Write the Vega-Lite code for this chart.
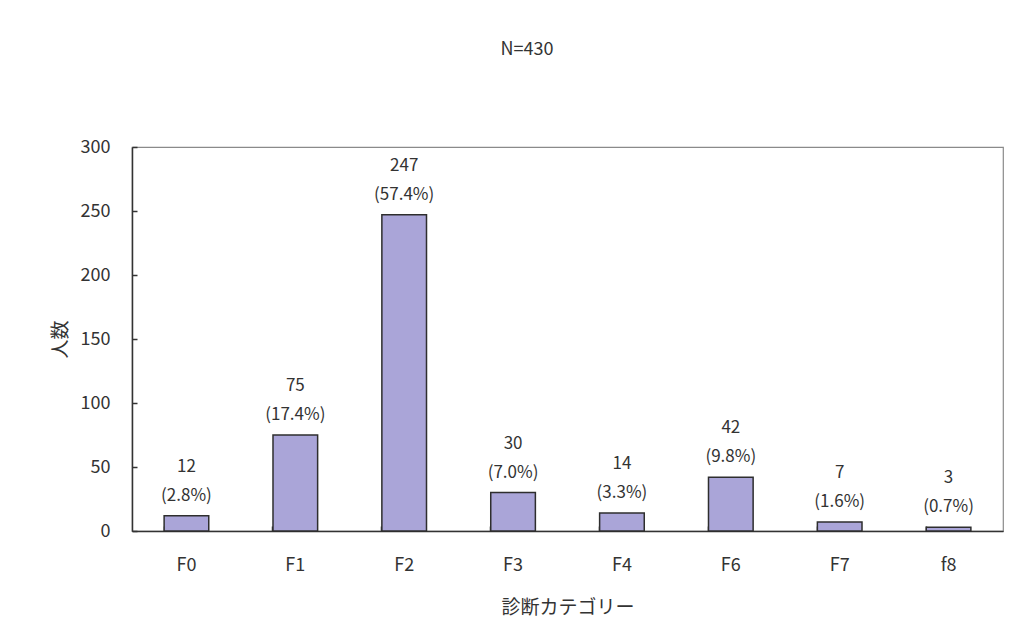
{
  "$schema": "https://vega.github.io/schema/vega-lite/v6.json",
  "autosize": "none",
  "width": 871,
  "height": 384,
  "padding": {"left": 132, "top": 147, "right": 16, "bottom": 103},
  "background": "white",
  "title": {
    "text": "N=430",
    "anchor": "middle",
    "frame": "bounds",
    "offset": 79,
    "fontSize": 18,
    "fontWeight": "normal",
    "font": "Noto Sans CJK JP",
    "color": "#333333"
  },
  "config": {
    "view": {"stroke": "#8a8a8a", "strokeWidth": 1.2},
    "font": "Noto Sans CJK JP"
  },
  "data": {
    "values": [
      {"cat": "F0", "count": 12, "pct": "(2.8%)"},
      {"cat": "F1", "count": 75, "pct": "(17.4%)"},
      {"cat": "F2", "count": 247, "pct": "(57.4%)"},
      {"cat": "F3", "count": 30, "pct": "(7.0%)"},
      {"cat": "F4", "count": 14, "pct": "(3.3%)"},
      {"cat": "F6", "count": 42, "pct": "(9.8%)"},
      {"cat": "F7", "count": 7, "pct": "(1.6%)"},
      {"cat": "f8", "count": 3, "pct": "(0.7%)"}
    ]
  },
  "encoding": {
    "x": {
      "field": "cat",
      "type": "nominal",
      "sort": null,
      "scale": {"paddingInner": 0.59, "paddingOuter": 0.295},
      "axis": {
        "title": "診断カテゴリー",
        "labelAngle": 0,
        "bandPosition": 0,
        "tickSize": -5,
        "tickColor": "#333333",
        "tickWidth": 1.5,
        "domainColor": "#333333",
        "domainWidth": 1.5,
        "labelFontSize": 18,
        "labelColor": "#333333",
        "labelPadding": 30,
        "titleFontSize": 19,
        "titleFontWeight": "normal",
        "titleColor": "#333333",
        "titlePadding": 24
      }
    },
    "y": {
      "field": "count",
      "type": "quantitative",
      "scale": {"domain": [0, 300]},
      "axis": {
        "title": "人数",
        "values": [0, 50, 100, 150, 200, 250, 300],
        "grid": false,
        "tickSize": -5,
        "tickColor": "#333333",
        "tickWidth": 1.5,
        "domainColor": "#333333",
        "domainWidth": 1.5,
        "labelFontSize": 18,
        "labelColor": "#333333",
        "labelPadding": 27,
        "titleFontSize": 19,
        "titleFontWeight": "normal",
        "titleColor": "#333333",
        "titlePadding": 10
      }
    }
  },
  "layer": [
    {
      "mark": {"type": "bar", "color": "#aaa5d8", "stroke": "#2e2e2e", "strokeWidth": 1.5}
    },
    {
      "transform": [{"calculate": "[format(datum.count, 'd'), datum.pct]", "as": "label"}],
      "mark": {"type": "text", "baseline": "bottom", "dy": -40, "fontSize": 17, "lineHeight": 29, "color": "#333333"},
      "encoding": {"text": {"field": "label"}}
    }
  ]
}
